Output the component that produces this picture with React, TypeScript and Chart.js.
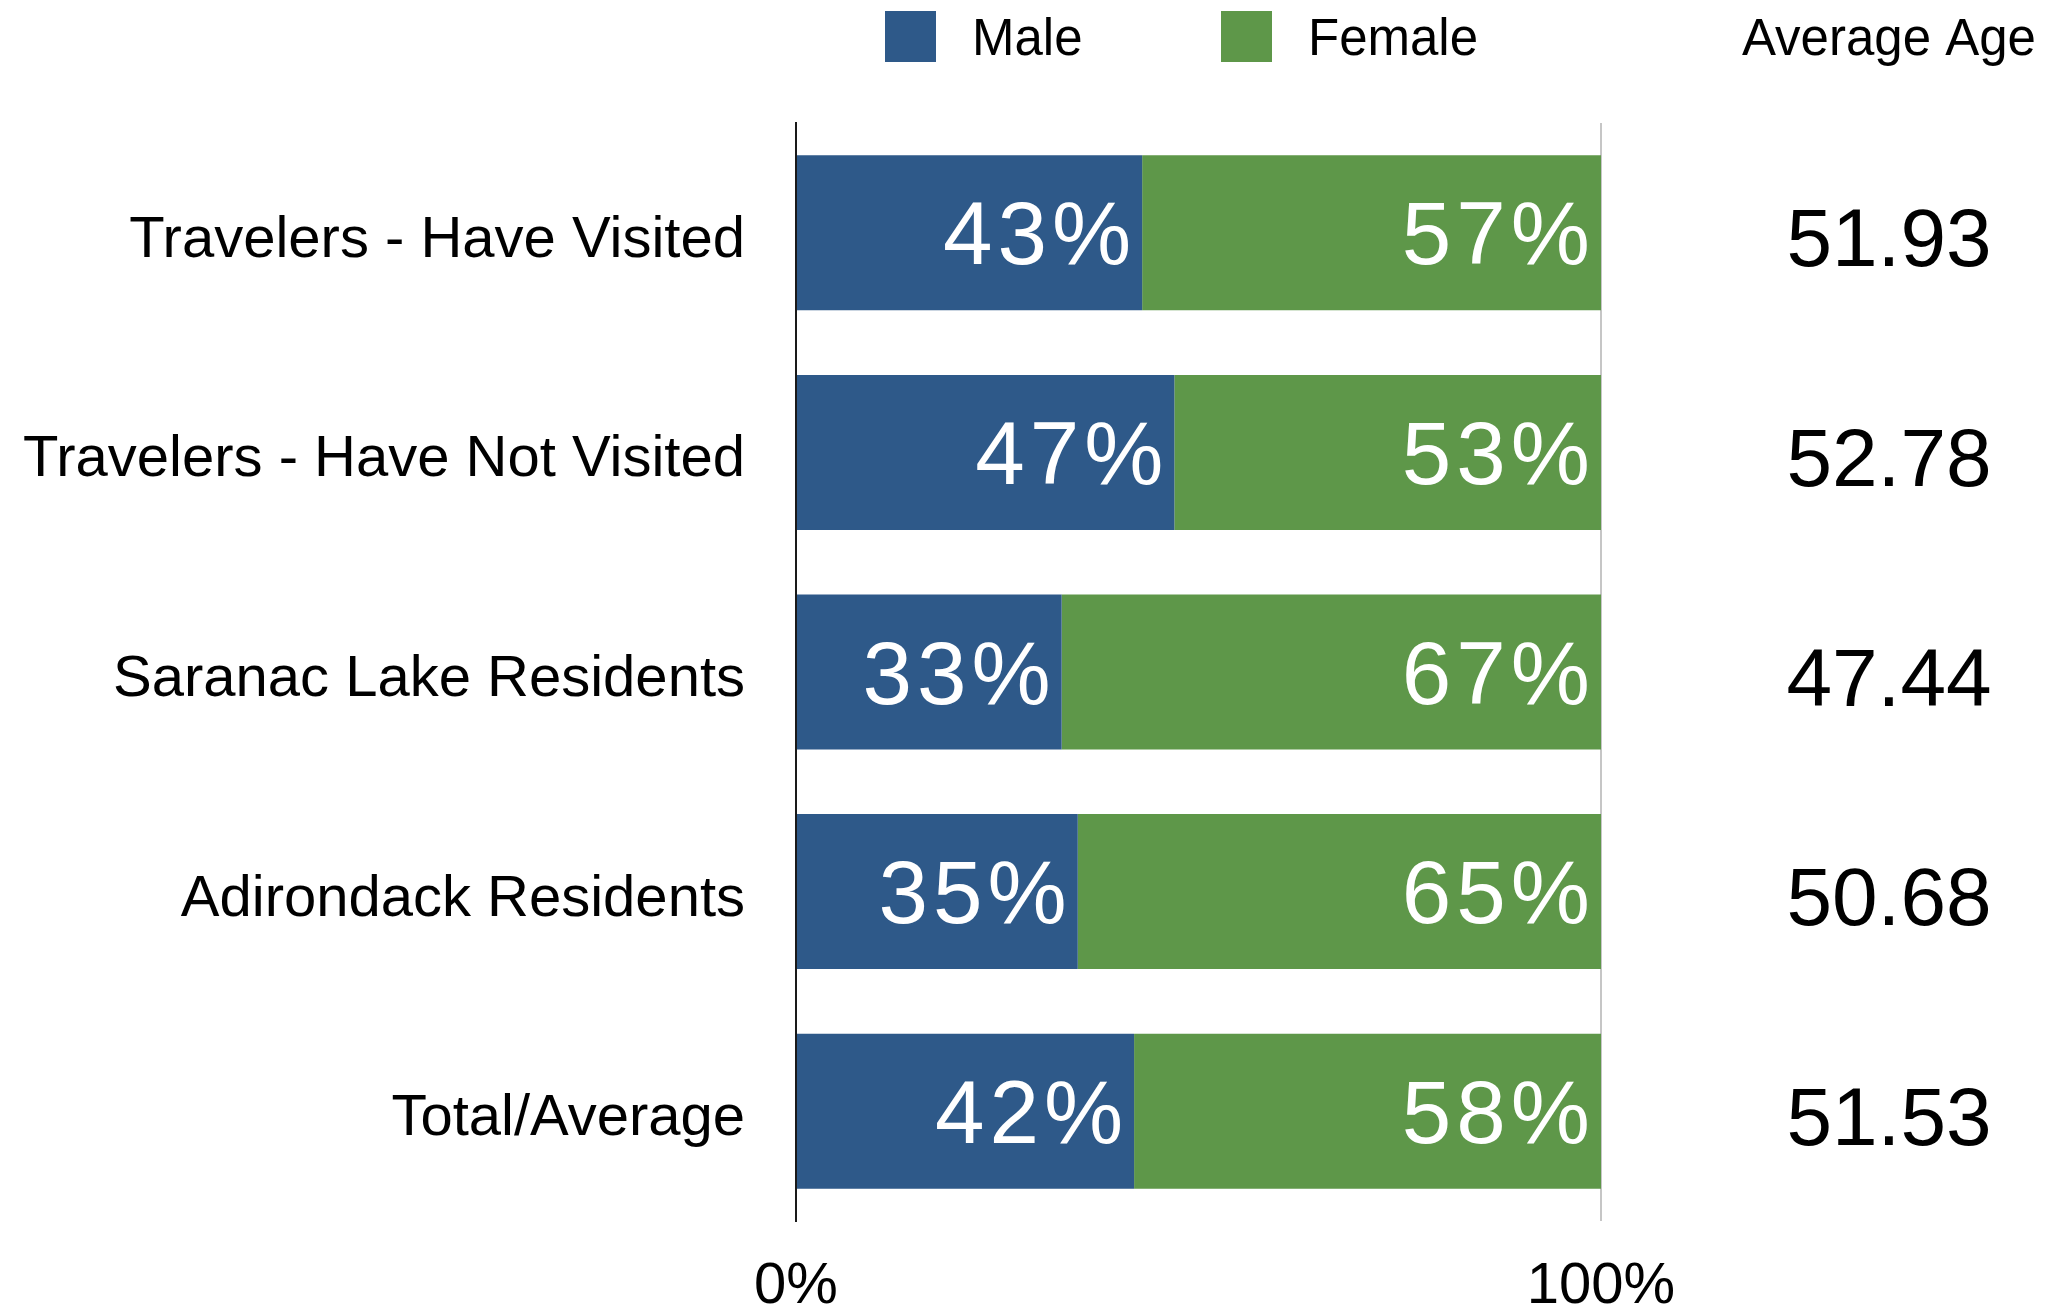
import React, { useEffect, useRef } from "react";
import { Chart, registerables } from "chart.js";

Chart.register(...registerables);

const categories = [
  "Travelers - Have Visited",
  "Travelers - Have Not Visited",
  "Saranac Lake Residents",
  "Adirondack Residents",
  "Total/Average",
];
const seriesNames = ["Male", "Female"];
const maleValues = [43, 47, 33, 35, 42];
const femaleValues = [57, 53, 67, 65, 58];
const averageAges = ["51.93", "52.78", "47.44", "50.68", "51.53"];
const averageAgeHeader = "Average Age";
const axisTickValues = [0, 100];

const MALE_COLOR = "#2E5989";
const FEMALE_COLOR = "#5E9749";
const FONT = '"Liberation Sans", Helvetica, Arial, sans-serif';

const extrasPlugin = {
  id: "extras",
  afterDatasetsDraw(chart: any) {
    const ctx = chart.ctx;
    ctx.save();
    ctx.fillStyle = "#ffffff";
    ctx.font = `89px ${FONT}`;
    try {
      (ctx as any).letterSpacing = "5px";
    } catch (e) {}
    ctx.textAlign = "right";
    ctx.textBaseline = "middle";
    chart.data.datasets.forEach((ds: any, di: number) => {
      const meta = chart.getDatasetMeta(di);
      meta.data.forEach((el: any, i: number) => {
        ctx.fillText(`${ds.data[i]}%`, el.x - 6, el.y + 7);
      });
    });
    ctx.restore();
  },
  afterDraw(chart: any) {
    const ctx = chart.ctx;
    const yScale = chart.scales.y;
    ctx.save();
    // Average age column
    const colX = 1889;
    ctx.fillStyle = "#000000";
    ctx.textAlign = "center";
    ctx.font = `51px ${FONT}`;
    ctx.textBaseline = "alphabetic";
    ctx.fillText(averageAgeHeader, colX, 55);
    ctx.font = `82px ${FONT}`;
    ctx.textBaseline = "middle";
    averageAges.forEach((a, i) => {
      ctx.fillText(a, colX, yScale.getPixelForValue(i) + 11);
    });
    // Legend
    const boxXs = [885, 1221];
    ctx.textAlign = "left";
    ctx.textBaseline = "alphabetic";
    ctx.font = `51px ${FONT}`;
    chart.data.datasets.forEach((ds: any, di: number) => {
      ctx.fillStyle = ds.backgroundColor;
      ctx.fillRect(boxXs[di], 11, 51, 51);
      ctx.fillStyle = "#000000";
      ctx.fillText(ds.label, boxXs[di] + 87, 55);
    });
    ctx.restore();
  },
};

export default function App() {
  const canvasRef = useRef<HTMLCanvasElement | null>(null);

  useEffect(() => {
    if (!canvasRef.current) return;
    const chart = new Chart(canvasRef.current, {
      type: "bar",
      data: {
        labels: categories,
        datasets: [
          {
            label: seriesNames[0],
            data: maleValues,
            backgroundColor: MALE_COLOR,
            borderWidth: 0,
            barPercentage: 0.706,
            categoryPercentage: 1.0,
          },
          {
            label: seriesNames[1],
            data: femaleValues,
            backgroundColor: FEMALE_COLOR,
            borderWidth: 0,
            barPercentage: 0.706,
            categoryPercentage: 1.0,
          },
        ],
      },
      options: {
        indexAxis: "y",
        responsive: false,
        animation: false,
        devicePixelRatio: 1,
        layout: { padding: { top: 123, right: 449, bottom: 0, left: 0 } },
        plugins: {
          legend: { display: false },
          tooltip: { enabled: false },
          title: { display: false },
        },
        scales: {
          x: {
            stacked: true,
            min: 0,
            max: 100,
            afterBuildTicks: (scale: any) => {
              scale.ticks = axisTickValues.map((v) => ({ value: v }));
            },
            afterFit: (scale: any) => {
              scale.height = 91;
            },
            ticks: {
              padding: 31,
              color: "#000000",
              font: { family: FONT, size: 58 },
              callback: (v: any) => `${v}%`,
              maxRotation: 0,
            },
            grid: {
              display: true,
              drawTicks: false,
              color: (c: any) => (c.tick && c.tick.value === 100 ? "#C6C6C6" : "rgba(0,0,0,0)"),
              lineWidth: 2,
            },
            border: { display: false },
          },
          y: {
            stacked: true,
            afterFit: (scale: any) => {
              scale.width = 796;
            },
            ticks: {
              padding: 43,
              color: "#000000",
              font: { family: FONT, size: 58 },
              labelOffset: 0,
            },
            grid: { display: false },
            border: { display: true, color: "#1a1a1a", width: 2 },
          },
        },
      },
      plugins: [
        extrasPlugin,
        {
          id: "yLabelShift",
          afterUpdate(chart: any) {
            const y = chart.scales.y;
            const items = y._labelItems || (y.getLabelItems ? y.getLabelItems() : null);
            if (items) {
              items.forEach((it: any) => {
                if (!it.__shifted) {
                  it.options.translation[1] += 8;
                  it.__shifted = true;
                }
              });
            }
          },
        },
      ],
    });
    return () => chart.destroy();
  }, []);

  return (
    <div style={{ position: "absolute", left: 0, top: 0, width: 2050, height: 1312, background: "#ffffff" }}>
      <canvas ref={canvasRef} width={2050} height={1312} style={{ display: "block" }} />
    </div>
  );
}
